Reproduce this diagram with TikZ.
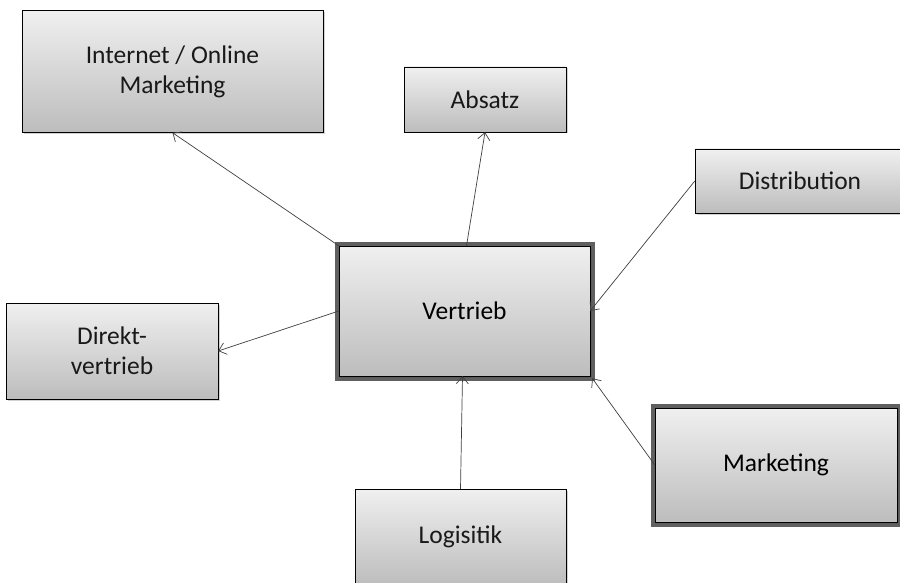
\documentclass[tikz,border=0pt]{standalone}
\usepackage{fontspec}
\setmainfont{Carlito}
\usetikzlibrary{arrows.meta, shadows, positioning}
\definecolor{linegray}{rgb}{0.25,0.25,0.25}
\definecolor{boxtop}{rgb}{0.94,0.94,0.94}
\definecolor{boxbottom}{rgb}{0.74,0.74,0.74}
\definecolor{rimgray}{rgb}{0.27,0.27,0.27}

\begin{document}
\begin{tikzpicture}[x=1pt,y=-1pt,->,>={Straight Barb[length=7pt,width=12pt]},semithick]
  \tikzstyle{topic}=[rectangle,draw=black,thin,top color=boxtop,bottom color=boxbottom,
                     align=center,text=black!90,font=\fontsize{25.5}{30}\selectfont,
                     drop shadow={shadow xshift=1.5pt,shadow yshift=-1.5pt,opacity=0.35}]
  \tikzstyle{core}=[topic,text=black,preaction={draw=rimgray,line width=9pt,opacity=0.85}]
  \tikzstyle{link}=[draw=linegray,line width=0.7pt]
  \clip (0,0) rectangle (900,583);
  \fill[white] (0,0) rectangle (900,583);

  \node[topic,minimum width=301,minimum height=122] (intmark)   at (172.5,71.5) {Internet / Online\\Marketing};
  \node[topic,minimum width=162,minimum height=65]  (absatz)    at (485,99.5)   {Absatz};
  \node[topic,minimum width=210,minimum height=64]  (distr)     at (800,181)    {Distribution};
  \node[core, minimum width=251,minimum height=130] (vertrieb)  at (464.5,311)  {Vertrieb};
  \node[topic,minimum width=212,minimum height=96]  (direkt)    at (112,351)    {Direkt-\\vertrieb};
  \node[core, minimum width=242,minimum height=114] (marketing) at (776,465)    {Marketing};
  \node[topic,minimum width=211,minimum height=96]  (logistik)  at (460.5,537)  {Logisitik};

  \draw[link] (vertrieb.north west)         -- (intmark.south);
  \draw[link] ([xshift=2pt]vertrieb.north)  -- (absatz.south);
  \draw[link] (distr.west)                  -- (vertrieb.east);
  \draw[link] (vertrieb.west)               -- (direkt.east);
  \draw[link] (marketing.west)              -- ([xshift=2pt,yshift=-2pt]vertrieb.south east);
  \draw[link] (logistik.north)              -- ([xshift=-2pt]vertrieb.south);
\end{tikzpicture}
\end{document}
